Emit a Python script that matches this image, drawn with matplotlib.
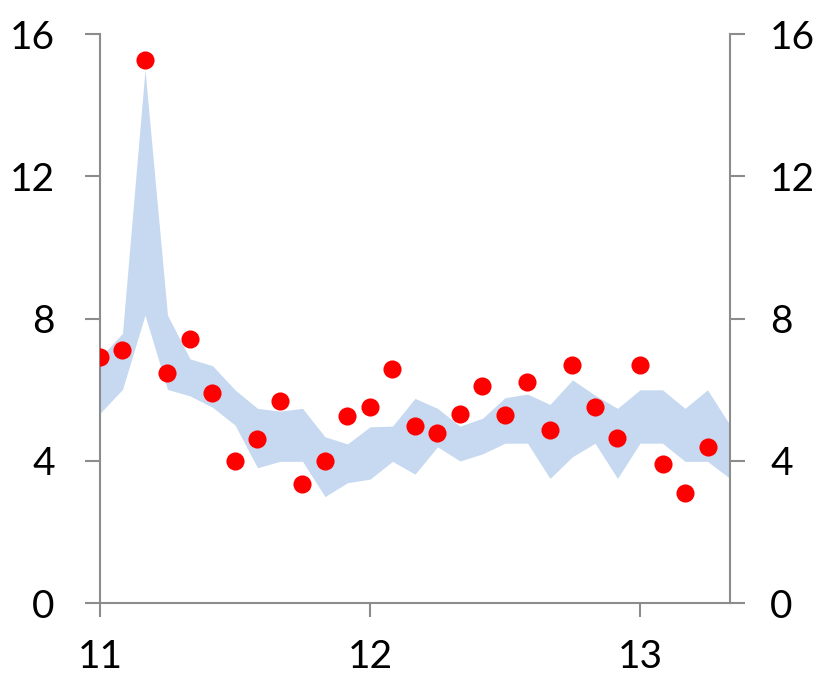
import numpy as np
import matplotlib
matplotlib.use("Agg")
import matplotlib.pyplot as plt

# monthly index starting at 11 (k/12 steps)
months_points = list(range(28))
months_band = list(range(29))

point_values = [6.93, 7.12, 15.27, 6.48, 7.42, 5.90, 3.99, 4.61, 5.69, 3.36,
                3.99, 5.26, 5.52, 6.58, 4.99, 4.78, 5.32, 6.11, 5.30, 6.22,
                4.86, 6.71, 5.51, 4.65, 6.71, 3.91, 3.10, 4.40]

band_upper = [6.9, 7.59, 15.0, 8.1, 6.87, 6.68, 6.0, 5.48, 5.40, 5.48,
              4.68, 4.48, 4.96, 4.98, 5.76, 5.48, 4.98, 5.2, 5.78, 5.88,
              5.59, 6.28, 5.85, 5.48, 6.0, 6.0, 5.48, 6.0, 5.01]
band_lower = [5.34, 6.01, 8.1, 6.01, 5.83, 5.51, 5.01, 3.81, 3.99, 3.99,
              3.0, 3.39, 3.49, 3.99, 3.63, 4.40, 4.0, 4.2, 4.5, 4.5,
              3.51, 4.12, 4.5, 3.51, 4.5, 4.5, 3.99, 3.99, 3.51]

x_ticks = [11, 12, 13]
y_ticks = [0, 4, 8, 12, 16]

plt.rcParams['font.family'] = ['Lato', 'DejaVu Sans']

fig = plt.figure(figsize=(8.23, 6.76), dpi=100)
ax = fig.add_axes([0.1215, 0.1075, 0.7655, 0.8422])

xb = 11 + np.array(months_band) / 12
xp = 11 + np.array(months_points) / 12

ax.fill_between(xb, band_lower, band_upper, color='#c6d9f0', linewidth=0)
ax.scatter(xp, point_values, s=170, color='#ff0000', zorder=3, linewidths=0)

ax.set_xlim(11, 11 + 28 / 12)
ax.set_ylim(0, 16)
ax.set_xticks(x_ticks)
ax.set_xticklabels([str(t) for t in x_ticks])
ax.set_yticks(y_ticks)

spine_col = '#8c8c8c'
ax.spines['top'].set_visible(False)
for s in ['left', 'right', 'bottom']:
    ax.spines[s].set_color(spine_col)
    ax.spines[s].set_linewidth(1.5)

ax.tick_params(axis='y', left=True, right=True, labelleft=True, labelright=True,
               length=11, width=1.5, color=spine_col, labelsize=28, pad=18)
ax.tick_params(axis='x', length=10, width=1.5, color=spine_col,
               labelsize=28, pad=16)

# left labels sit a bit further out than the right ones
for t in ax.yaxis.get_major_ticks():
    t.label1.set_x(-0.008)

plt.savefig('out.png', dpi=100)
plt.close()
